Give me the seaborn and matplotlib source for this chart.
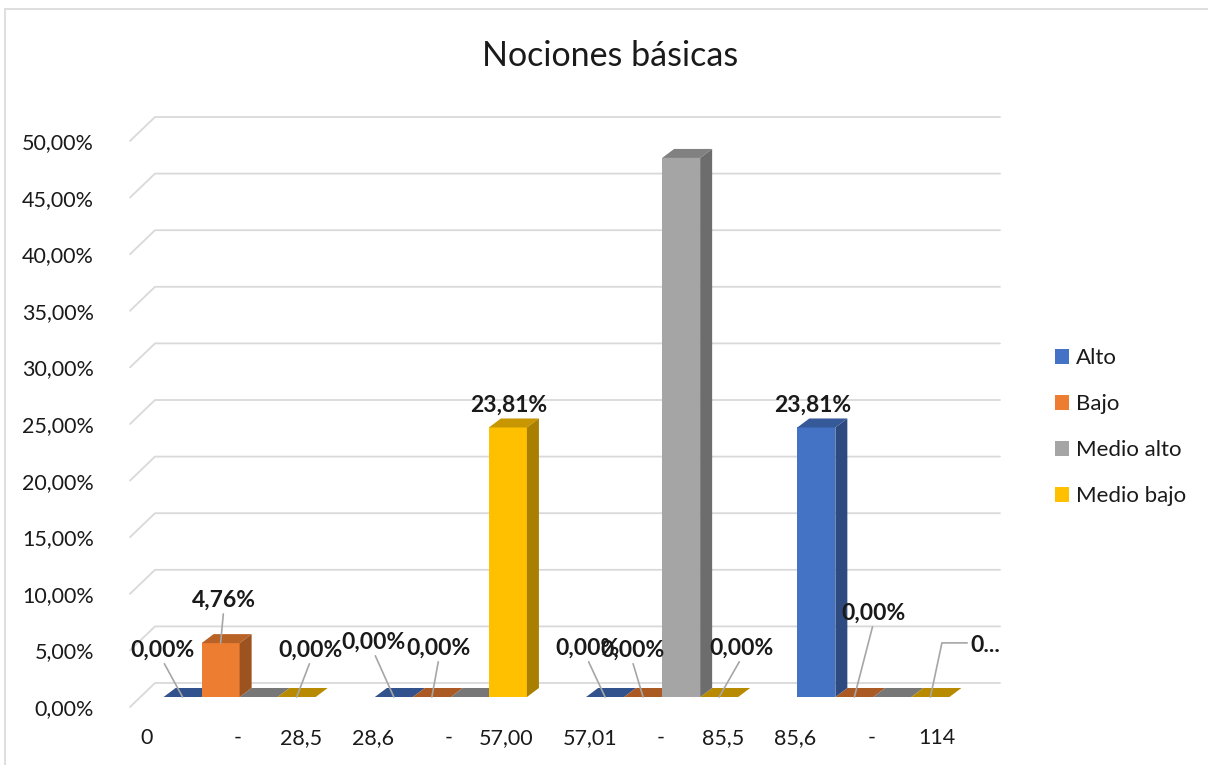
"""
Nociones básicas - 3D-style grouped bar chart (Excel look) with seaborn
"""

import matplotlib
matplotlib.use("Agg")
import matplotlib.pyplot as plt
import numpy as np
import pandas as pd
import seaborn as sns
from matplotlib.colors import to_rgb
from matplotlib.patches import Patch, Polygon, Rectangle

# Data
categories = ["0 - 28,5", "28,6 - 57,00", "57,01 - 85,5", "85,6 - 114"]
series = ["Alto", "Bajo", "Medio alto", "Medio bajo"]
alto = [0.0, 0.0, 0.0, 23.81]
bajo = [4.76, 0.0, 0.0, 0.0]
medio_alto = [0.0, 0.0, 47.62, 0.0]
medio_bajo = [0.0, 23.81, 0.0, 0.0]
y_ticks = [0, 5, 10, 15, 20, 25, 30, 35, 40, 45, 50]
colors = ["#4472C4", "#ED7D31", "#A5A5A5", "#FFC000"]
title = "Nociones básicas"

sns.set_style("white")
plt.rcParams["font.family"] = ["Lato", "DejaVu Sans"]
TEXT = "#1a1a1a"
FS = 15.5


def pct(v):
    return f"{v:.2f}%".replace(".", ",")


def shade(c, f):
    r, g, b = to_rgb(c)
    return (r * f, g * f, b * f)


df = pd.DataFrame({
    "category": categories * 4,
    "series": np.repeat(series, len(categories)),
    "value": alto + bajo + medio_alto + medio_bajo,
})

# Layout in pixels (figure is 1208 x 765)
W, H = 1208, 765
x_left, x_right = 130, 975
y_zero, y_top = 707, 141

fig = plt.figure(figsize=(W / 100, H / 100), dpi=100)
ax = fig.add_axes([x_left / W, 1 - y_zero / H, (x_right - x_left) / W, (y_zero - y_top) / H])

sns.barplot(
    data=df, x="category", y="value", hue="series",
    order=categories, hue_order=series, palette=colors,
    width=0.72, gap=0, saturation=1, errorbar=None, legend=False,
    ax=ax, zorder=3,
)
ax.set_xlim(-0.5, 3.5)
ax.set_ylim(0, 50)

# pixel -> data conversion for the fake depth
px_x = (x_right - x_left) / 4
px_y = (y_zero - y_top) / 50
wall_dx, wall_dy = 25 / px_x, 24 / px_y
shift_x, shift_y = 4 / px_x, 10 / px_y
depth_dx, depth_dy = 12 / px_x, 9 / px_y

# back wall gridlines with the left wall diagonal
for lvl in y_ticks:
    ax.plot([-0.5, -0.5 + wall_dx, 3.5 + wall_dx], [lvl, lvl + wall_dy, lvl + wall_dy],
            color="#D9D9D9", lw=1.3, zorder=1, clip_on=False)

# turn the flat bars into boxes
anchors = {}
for p in list(ax.patches):
    xl = p.get_x() + shift_x
    w = p.get_width()
    h = p.get_height()
    cx = xl + w / 2
    cat = int(round(cx - shift_x))
    s_idx = int(round((cx - shift_x - cat + 0.27) / 0.18))
    col = colors[s_idx]
    p.set_x(xl)
    p.set_y(shift_y)
    p.set_clip_on(False)
    p.set_edgecolor("none")
    top = shift_y + h
    top_face = [(xl, top), (xl + w, top), (xl + w + depth_dx, top + depth_dy), (xl + depth_dx, top + depth_dy)]
    if h == 0:
        p.set_visible(False)
        ax.add_patch(Polygon(top_face, closed=True, facecolor=shade(col, 0.72),
                             edgecolor="none", zorder=2, clip_on=False))
    else:
        ax.add_patch(Polygon(top_face, closed=True, facecolor=shade(col, 0.78),
                             edgecolor="none", zorder=3, clip_on=False))
        side = [(xl + w, shift_y), (xl + w + depth_dx, shift_y + depth_dy),
                (xl + w + depth_dx, top + depth_dy), (xl + w, top)]
        ax.add_patch(Polygon(side, closed=True, facecolor=shade(col, 0.66),
                             edgecolor="none", zorder=3, clip_on=False))
    anchors[(s_idx, cat)] = (cx, top)

# data labels: (series, category) -> pixel offset of label, leader line style
label_offsets = {
    (0, 0): (-20, 47, "line"),
    (1, 0): (3, 43, "line"),
    (3, 0): (14, 47, "line"),
    (0, 1): (-20, 55, "line"),
    (1, 1): (7, 49, "line"),
    (3, 1): (1, 22, None),
    (0, 2): (-18, 49, "line"),
    (1, 2): (-11, 47, "line"),
    (3, 2): (22, 49, "line"),
    (0, 3): (-4, 22, None),
    (1, 3): (19, 84, "line"),
    (3, 3): (55, 52, "elbow"),
}
values = [alto, bajo, medio_alto, medio_bajo]
for (s_idx, cat), (ox, oy, leader) in label_offsets.items():
    txt = pct(values[s_idx][cat])
    if leader == "elbow":
        txt = txt[0] + "..."
    arrow = None
    if leader == "line":
        arrow = dict(arrowstyle="-", color="#A6A6A6", lw=1.2, shrinkA=0, shrinkB=0, relpos=(0.5, 0))
    elif leader == "elbow":
        arrow = dict(arrowstyle="-", color="#A6A6A6", lw=1.2, shrinkA=0, shrinkB=0, relpos=(0, 0.6),
                     connectionstyle="angle,angleA=0,angleB=78,rad=0")
    ax.annotate(txt, xy=anchors[(s_idx, cat)], xytext=(ox, oy), textcoords="offset pixels",
                ha="center", va="center", fontsize=16.5, fontweight="bold", color=TEXT,
                arrowprops=arrow, zorder=5, annotation_clip=False)

# axes cosmetics
ax.set_yticks(y_ticks, labels=[pct(t) for t in y_ticks])
ax.tick_params(axis="y", length=0, pad=26, labelsize=FS, labelcolor=TEXT)
ax.set_xticks([])
ax.set_xlabel("")
ax.set_ylabel("")
ax.set_facecolor("none")
sns.despine(ax=ax, left=True, bottom=True)

# category labels spread like Excel's justified labels
label_y = -(738 - y_zero) / px_y
for i, cat in enumerate(categories):
    lo, hi = cat.split(" - ")
    ax.text(i - 0.45, label_y, lo, ha="left", va="center", fontsize=FS, color=TEXT, clip_on=False)
    ax.text(i + 0.01, label_y, "-", ha="center", va="center", fontsize=FS, color=TEXT, clip_on=False)
    ax.text(i + 0.41, label_y, hi, ha="right", va="center", fontsize=FS, color=TEXT, clip_on=False)

# legend
handles = [Patch(facecolor=c, edgecolor="none") for c in colors]
fig.legend(handles, series, loc="center left", bbox_to_anchor=(1035 / W, 1 - 427 / H),
           frameon=False, fontsize=FS + 0.5, handlelength=0.65, handleheight=0.65,
           handletextpad=0.3, labelspacing=1.17, labelcolor=TEXT)

fig.text(610 / W, 1 - 56 / H, title, ha="center", va="center", fontsize=24.5, color=TEXT)

# chart border
fig.add_artist(Rectangle((5 / W, -0.1), 1.2, 1 - 9 / H + 0.1, transform=fig.transFigure,
                         fill=False, edgecolor="#D9D9D9", lw=1.2))

fig.savefig("out.png", dpi=100)
plt.close(fig)
